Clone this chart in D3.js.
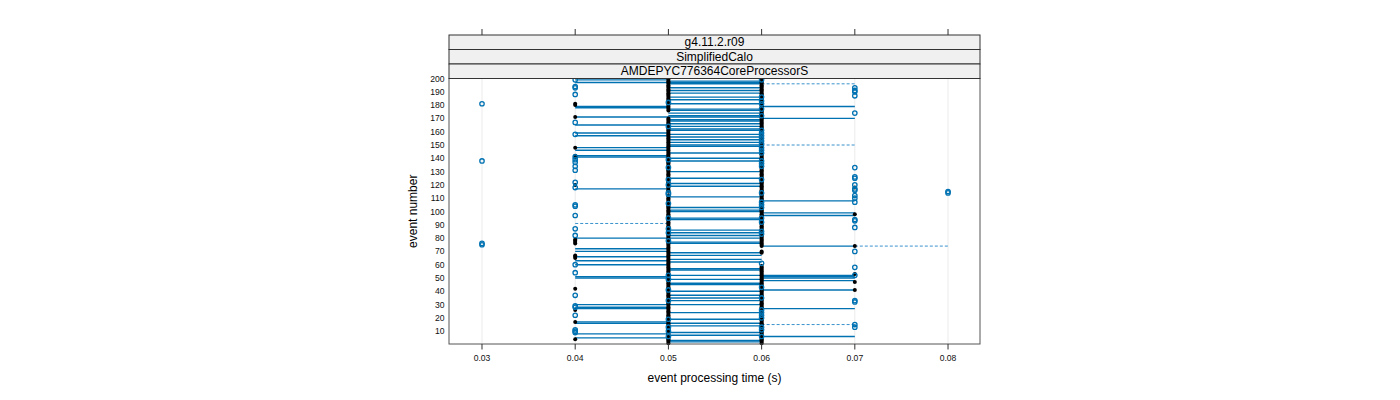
<!DOCTYPE html>
<html><head><meta charset="utf-8">
<script src="https://cdn.jsdelivr.net/npm/d3@7"></script>
<style>
html,body{margin:0;padding:0;background:#fff;}
text{font-family:"Liberation Sans",Arial,Helvetica,sans-serif;}
</style></head>
<body><svg id="c" width="1400" height="400"></svg>
<script>
// ---- data ----
const stripLabels = ["g4.11.2.r09", "SimplifiedCalo", "AMDEPYC776364CoreProcessorS"];
const xTicks = [0.03, 0.04, 0.05, 0.06, 0.07, 0.08];
const yTicks = [10,20,30,40,50,60,70,80,90,100,110,120,130,140,150,160,170,180,190,200];
const xTitle = "event processing time (s)";
const yTitle = "event number";

// open (blue) circles: event numbers at each processing time
const open030 = [181, 138, 76, 75];
const open040 = [199,194,193,188,167,158,141,139,137,134,131,122,118,105,104,97,87,82,60,54,37,29,28,22,11,10,9];
const open050 = [182,164,139,133,124,120,114,113,106,95,87,84,78,52,49,41,33,19,13,10,6];
const open060 = [199,186,183,181,177,172,161,159,157,155,153,151,148,146,144,138,136,134,124,114,107,105,103,95,92,85,83,61,43,35,26,24,22,20,13,11,6];
const open070 = [193,191,190,187,174,133,126,125,120,117,116,112,110,107,94,93,88,70,58,52,33,32,15,13];
const open080 = [115, 114];

// filled (black) points: event numbers at each processing time
const filled040 = [181,180,171,148,142,141,120,79,78,77,76,67,66,65,42,26,17,4];
const filled050 = [1,2,3,4,5,7,8,9,11,12,14,15,16,17,18,20,21,22,23,24,25,26,27,28,29,30,31,32,34,35,36,37,38,39,40,42,43,44,45,46,47,48,50,51,53,54,55,56,57,58,59,60,61,62,63,64,65,66,67,68,69,70,71,72,73,74,75,76,77,79,80,81,82,83,85,86,88,89,90,91,92,93,94,96,97,98,99,100,101,102,103,104,105,107,108,109,110,111,112,115,116,117,118,119,121,122,123,125,126,127,128,129,130,131,132,134,135,136,137,138,140,141,142,143,144,145,146,147,148,149,150,151,152,153,154,155,156,157,158,159,160,161,162,163,165,166,167,168,169,170,176,177,178,179,180,181,183,184,185,186,187,188,189,190,191,192,193,194,195,196,197,198,199,200];
const filled060 = [1,2,3,4,5,7,8,9,10,12,14,15,16,17,18,19,21,23,25,27,28,29,30,31,32,33,34,36,37,38,39,40,41,42,44,45,46,47,48,49,50,51,52,53,54,55,56,57,58,59,69,70,74,75,76,77,78,79,80,81,82,84,86,87,88,89,90,91,93,94,96,97,98,99,100,101,102,104,106,108,109,110,111,112,113,115,116,117,118,119,120,121,122,123,125,126,127,128,129,130,131,132,133,135,137,139,140,141,142,143,145,147,149,150,152,154,156,158,160,162,163,164,165,166,167,168,169,170,171,173,174,175,176,178,179,180,182,184,185,187,188,189,190,191,192,193,194,195,196,197,198,200];
const filled070 = [118, 98, 74, 53, 47, 41];

// horizontal segments: event numbers for each pair of times
const solid0405 = [199,197,179,178,171,165,159,157,148,146,142,141,117,80,72,70,66,63,60,51,50,30,28,27,17,16,8,5];
const solid0506 = [198,197,196,193,191,189,186,184,181,177,176,174,172,171,169,168,166,164,162,161,158,156,154,152,150,149,144,140,138,130,125,121,119,111,103,101,100,95,94,86,84,82,80,77,76,69,67,64,62,57,56,52,49,46,45,40,37,35,33,30,24,19,16,14,9,7,3,2];
const solid0607 = [179,170,108,99,97,74,52,51,50,48,41,27,6];
const dashed0405 = [91];
const dashed0607 = [196,150,15];
const dashed0708 = [74];

// ---- drawing ----
const svg = d3.select("#c");
const P = {l: 449, r: 980, t: 78.5, b: 344};
const x = d3.scaleLinear().domain([0.02646, 0.08343]).range([P.l, P.r]);
const y = d3.scaleLinear().domain([0, 200]).range([344.5, 78.5]);
const blue = "#0072B2";

// grid lines
svg.append("g").selectAll("line").data(xTicks).join("line")
  .attr("x1", d => x(d)).attr("x2", d => x(d)).attr("y1", P.t).attr("y2", P.b)
  .attr("stroke", "#ebebeb").attr("stroke-width", 1);

// segments
function segs(list, a, b, dashed) {
  svg.append("g").selectAll("line").data(list).join("line")
    .attr("x1", x(a)).attr("x2", x(b))
    .attr("y1", d => y(d)).attr("y2", d => y(d))
    .attr("stroke", dashed ? "#3a92cc" : blue)
    .attr("stroke-width", dashed ? 1 : 1.4)
    .attr("stroke-dasharray", dashed ? "3,2" : null);
}
segs(solid0405, 0.04, 0.05, false);
segs(solid0506, 0.05, 0.06, false);
segs(solid0607, 0.06, 0.07, false);
segs(dashed0405, 0.04, 0.05, true);
segs(dashed0607, 0.06, 0.07, true);
segs(dashed0708, 0.07, 0.08, true);

// filled points
function filled(list, t) {
  svg.append("g").selectAll("circle").data(list).join("circle")
    .attr("cx", x(t)).attr("cy", d => y(d)).attr("r", 2).attr("fill", "#000");
}
filled(filled040, 0.04); filled(filled050, 0.05); filled(filled060, 0.06); filled(filled070, 0.07);

// open points
function open(list, t) {
  svg.append("g").selectAll("circle").data(list).join("circle")
    .attr("cx", x(t)).attr("cy", d => y(d)).attr("r", 2.2)
    .attr("fill", "none").attr("stroke", blue).attr("stroke-width", 1.3);
}
open(open030, 0.03); open(open040, 0.04); open(open050, 0.05);
open(open060, 0.06); open(open070, 0.07); open(open080, 0.08);

// panel border
svg.append("rect").attr("x", P.l).attr("y", P.t).attr("width", P.r - P.l).attr("height", P.b - P.t)
  .attr("fill", "none").attr("stroke", "#555").attr("stroke-width", 1);

// strips
const stripTop = 35, stripH = 14.5;
stripLabels.forEach((s, i) => {
  const yy = stripTop + i * stripH;
  svg.append("rect").attr("x", P.l).attr("y", yy).attr("width", P.r - P.l).attr("height", stripH)
    .attr("fill", "#f0f0f0").attr("stroke", "#333").attr("stroke-width", 1);
  svg.append("text").attr("x", (P.l + P.r) / 2).attr("y", yy + stripH / 2 + 4.2)
    .attr("text-anchor", "middle").attr("font-size", 12).attr("fill", "#000").text(s);
});

// bottom axis
const gB = svg.append("g");
gB.selectAll("line").data(xTicks).join("line")
  .attr("x1", d => x(d)).attr("x2", d => x(d)).attr("y1", P.b).attr("y2", P.b + 5.5)
  .attr("stroke", "#333");
gB.selectAll("text").data(xTicks).join("text")
  .attr("x", d => x(d)).attr("y", 361).attr("text-anchor", "middle")
  .attr("font-size", 8.6).attr("fill", "#111").text(d => d3.format(".2f")(d));
// top ticks
svg.append("g").selectAll("line").data(xTicks).join("line")
  .attr("x1", d => x(d)).attr("x2", d => x(d)).attr("y1", 29).attr("y2", stripTop)
  .attr("stroke", "#333");

// left axis labels
svg.append("g").selectAll("text").data(yTicks).join("text")
  .attr("x", 444.5).attr("y", d => y(d) + 3).attr("text-anchor", "end")
  .attr("font-size", 8.6).attr("fill", "#111").text(d => d);

// titles
svg.append("text").attr("x", (P.l + P.r) / 2).attr("y", 382).attr("text-anchor", "middle")
  .attr("font-size", 12).attr("fill", "#000").text(xTitle);
svg.append("text").attr("transform", `translate(417,${(P.t + P.b) / 2}) rotate(-90)`)
  .attr("text-anchor", "middle").attr("font-size", 12).attr("fill", "#000").text(yTitle);
</script>
</body></html>
